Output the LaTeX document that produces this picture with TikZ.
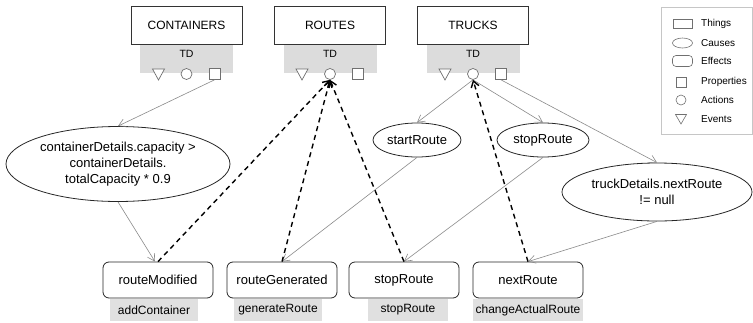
\documentclass[tikz,border=0pt]{standalone}
\usepackage{fontspec}
\setmainfont{Liberation Sans}
\usetikzlibrary{arrows.meta,shapes.geometric}
\definecolor{panelgray}{HTML}{DCDCDC}
\definecolor{labelgray}{HTML}{E0E0E0}
\definecolor{linegray}{HTML}{8A8A8A}
\definecolor{symgray}{HTML}{707070}
\begin{document}
\begin{tikzpicture}[x=1pt,y=-1pt,
  thing/.style={draw=black!80, line width=0.8pt, fill=white, minimum width=111pt, minimum height=38pt, inner sep=0pt, font=\fontsize{12}{14}\selectfont},
  panel/.style={fill=panelgray, minimum width=93pt, minimum height=29pt, inner sep=0pt},
  tdlabel/.style={font=\fontsize{10.5}{12}\selectfont, inner sep=0pt},
  sym/.style={draw=symgray, line width=0.7pt, fill=white, inner sep=0pt},
  symsq/.style={sym, rectangle, minimum size=11pt},
  symci/.style={sym, circle, minimum size=11pt},
  cause/.style={draw=black!85, line width=0.8pt, ellipse, inner sep=0pt, align=center, font=\fontsize{13}{16}\selectfont},
  effect/.style={draw=black!85, line width=0.8pt, rounded corners=6pt, minimum width=110pt, minimum height=36pt, inner sep=0pt, font=\fontsize{13}{15}\selectfont},
  glabel/.style={fill=labelgray, minimum height=22pt, inner sep=0pt, font=\fontsize{12}{14}\selectfont},
  legtext/.style={anchor=west, inner sep=0pt, font=\fontsize{10}{12}\selectfont},
  legsym/.style={draw=symgray, line width=0.6pt, inner sep=0pt},
  garrow/.style={draw=linegray, line width=0.6pt, -{Straight Barb[length=7pt,width=8pt]}},
  darrow/.style={draw=black, line width=1.4pt, dash pattern=on 5pt off 4pt, -{Straight Barb[length=6pt,width=8pt]}}
]
\useasboundingbox (0,0) rectangle (753,322);

% ---- Things ----
\foreach \nm/\cx/\txt in {cont/186.5/CONTAINERS, rout/330/ROUTES, truc/473/TRUCKS}{
  \node[panel] (\nm p) at (\cx,58.5) {};
  \node[thing] (\nm) at (\cx,25) {\txt};
  \node[tdlabel] (\nm td) at (\cx,53.5) {TD};
  \draw[sym] (\cx-28-6,74-5) -- (\cx-28+6,74-5) -- (\cx-28,74+6) -- cycle;
  \node[symci] (\nm c) at (\cx,74) {};
  \node[symsq] (\nm s) at (\cx+28,74) {};
}

% ---- Legend ----
\node[draw=gray!45, line width=0.6pt, minimum width=91pt, minimum height=127pt, inner sep=0pt] (legend) at (706.5,71) {};
\node[legsym, minimum width=19pt, minimum height=9pt] (lthing) at (682.5,24) {};
\node[legsym, ellipse, minimum width=20pt, minimum height=10pt] (lcause) at (682.5,43) {};
\node[legsym, rounded corners=3.5pt, minimum width=20pt, minimum height=11pt] (leffect) at (682.5,61) {};
\node[legsym, minimum size=10pt] (lprop) at (681,82) {};
\node[legsym, circle, minimum size=10pt] (lact) at (681,100) {};
\draw[legsym] (675.5,114.5) -- (686.5,114.5) -- (681,124) -- cycle;
\node[legtext] (tthing) at (701,24) {Things};
\node[legtext] (tcause) at (701,43) {Causes};
\node[legtext] (teffect) at (701,61) {Effects};
\node[legtext] (tprop) at (701,82) {Properties};
\node[legtext] (tact) at (701,100) {Actions};
\node[legtext] (tevent) at (701,119) {Events};

% ---- Causes ----
\node[cause, minimum width=224pt, minimum height=75pt] (c1) at (118,164) {containerDetails.capacity >\\containerDetails.\\totalCapacity * 0.9};
\node[cause, minimum width=88pt, minimum height=34pt] (c2) at (417,140) {startRoute};
\node[cause, minimum width=92pt, minimum height=34pt] (c3) at (543,140) {stopRoute};
\node[cause, minimum width=190pt, minimum height=58pt] (c4) at (657,192) {truckDetails.nextRoute\\!= null};

% ---- Effects ----
\node[effect] (e1) at (158,280) {routeModified};
\node[effect] (e2) at (282,280) {routeGenerated};
\node[effect] (e3) at (404,280) {stopRoute};
\node[effect] (e4) at (528,280) {nextRoute};
\node[glabel, minimum width=88pt] (g1) at (154,310) {addContainer};
\node[glabel, minimum width=88pt] (g2) at (278,310) {generateRoute};
\node[glabel, minimum width=80pt] (g3) at (408,310) {stopRoute};
\node[glabel, minimum width=110pt] (g4) at (528,310) {changeActualRoute};

% ---- Connectors ----
\draw[garrow] (conts.south) -- (c1.north);
\draw[garrow] (c1.south) -- ([xshift=-3pt]e1.north);
\draw[garrow] (trucc.south) -- (c2.north);
\draw[garrow] (trucc.south) -- (c3.north);
\draw[garrow] (trucs.south) -- (c4.north);
\draw[garrow] (c2.south) -- (e2.north);
\draw[garrow] (c3.south) -- (e3.north);
\draw[garrow] (c4.south) -- (e4.north);

\draw[darrow] (e1.north) -- (routc.south);
\draw[darrow] (e2.north) -- (routc.south);
\draw[darrow] (e3.north) -- (routc.south);
\draw[darrow] (e4.north) -- (trucc.south);
\end{tikzpicture}
\end{document}
